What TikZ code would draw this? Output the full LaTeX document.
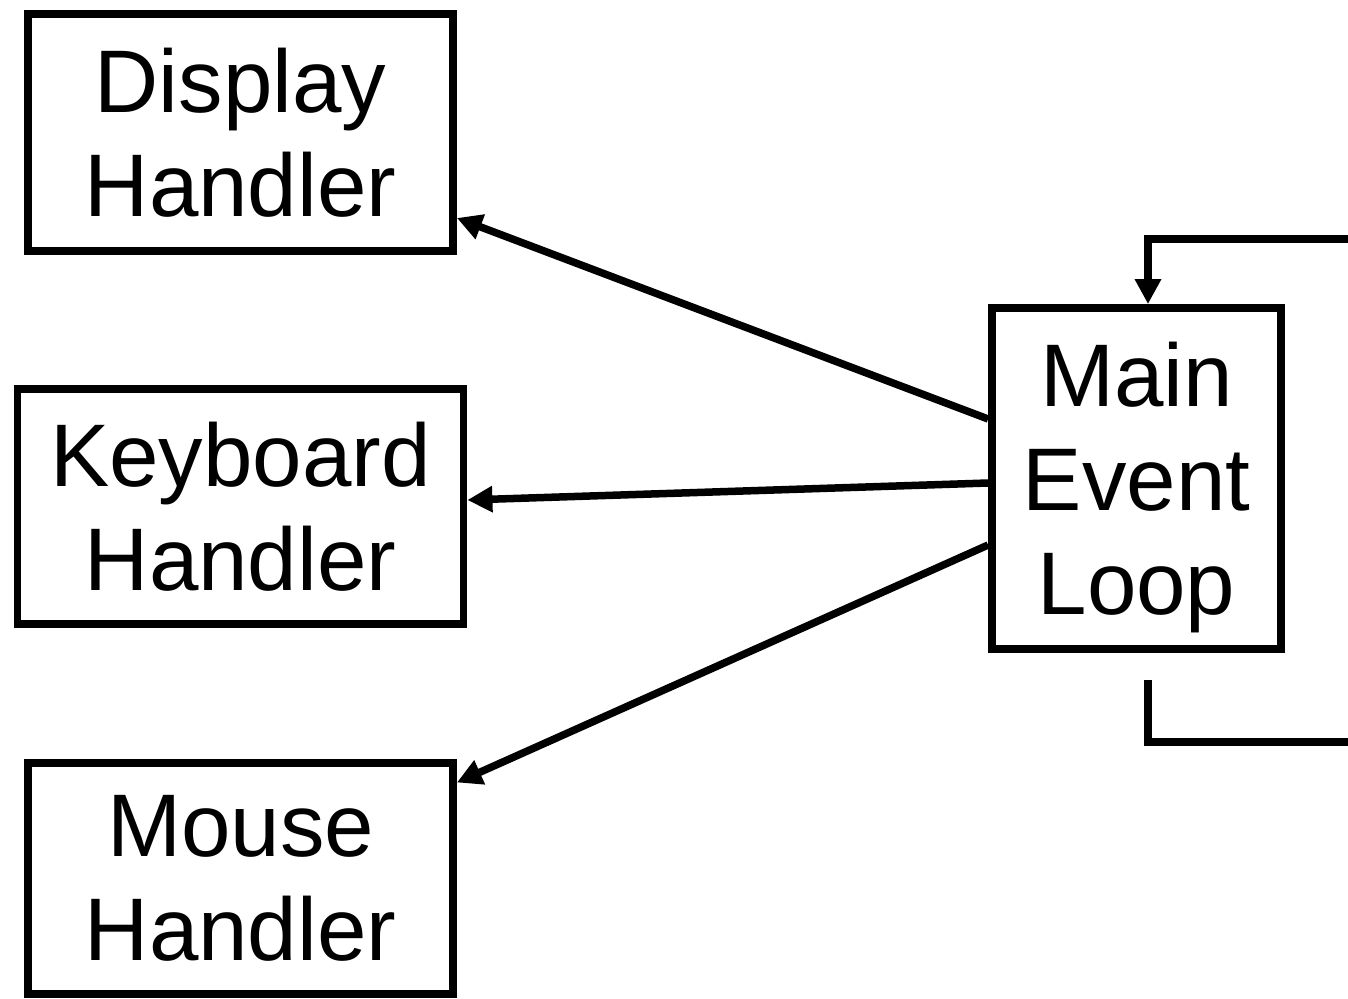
\documentclass[tikz,border=0pt]{standalone}
\usepackage{fontspec}
\setmainfont{Liberation Sans}
\usetikzlibrary{shapes, arrows.meta}

\begin{document}
\begin{tikzpicture}[node distance=3.74cm, auto, >={Triangle[length=0.25cm, width=0.25cm]}]
    \tikzstyle{block} = [rectangle, draw, line width=0.078cm, align=center, inner sep=0pt, font=\fontsize{25.3}{29.6}\selectfont]
    \tikzstyle{line} = [draw, ->, line width=0.075cm]
    \tikzstyle{wire} = [draw, line width=0.075cm]

    \useasboundingbox (0,0) rectangle (13.48,-9.99);

    % Nodes
    \node [block, minimum width=4.25cm, minimum height=2.37cm] (display) at (2.405,-1.325) {Display\\Handler};
    \node [block, below of=display, minimum width=4.46cm, minimum height=2.35cm] (keyboard) {Keyboard\\Handler};
    \node [block, below of=keyboard, node distance=3.72cm, minimum width=4.25cm, minimum height=2.31cm] (mouse) {Mouse\\Handler};
    \node [block, text depth=0pt, minimum width=2.89cm, minimum height=3.41cm] (main) at (11.365,-4.785) {Main\\Event\\Loop};

    % Loop ends
    \coordinate (loopin) at (13.48,-2.39);
    \coordinate (loopout) at (13.48,-7.42);

    % Paths
    \path [line] ([yshift=0.595cm]main.west) -- ([yshift=-0.855cm]display.east);
    \path [line] ([yshift=-0.045cm]main.west) -- ([yshift=0.065cm]keyboard.east);
    \path [line] ([yshift=-0.665cm]main.west) -- ([yshift=0.96cm]mouse.east);
    \path [line] (loopin) -| ([xshift=0.115cm]main.north);
    \path [wire] ([xshift=0.115cm, yshift=-0.27cm]main.south) |- (loopout);

\end{tikzpicture}
\end{document}
